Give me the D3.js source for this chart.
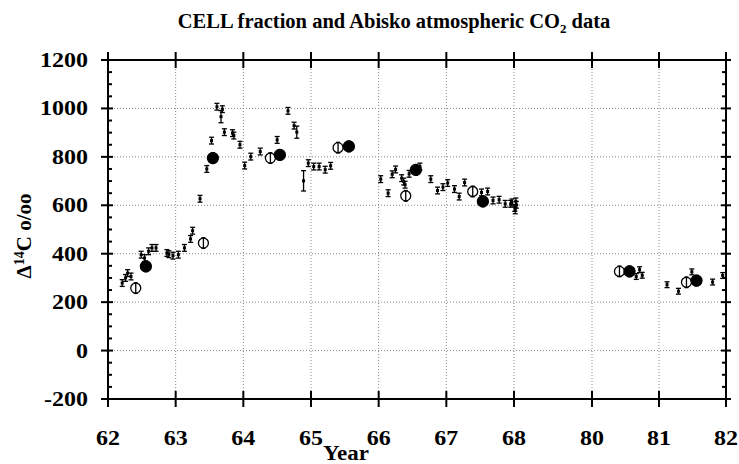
<!DOCTYPE html>
<head>
  <script src="https://d3js.org/d3.v7.min.js"></script>
</head>
<style>
  body { margin: 0; background: #fff; }
  text { font-family: "Liberation Serif", "DejaVu Serif", serif; font-weight: bold; fill: #000; }
</style>
<body>
  <svg id="chart"></svg>
</body>
<script>
  var w = 739;
  var h = 464;

  // x ticks (axis is broken between 68 and 80)
  var xTicks = [62, 63, 64, 65, 66, 67, 68, 80, 81, 82];
  var yTicks = [-200, 0, 200, 400, 600, 800, 1000, 1200];

  // small samples with error bars
  var smallYears = [62.21, 62.26, 62.29, 62.34, 62.49, 62.54, 62.60, 62.65, 62.71, 62.87, 62.90, 62.96,
    63.04, 63.13, 63.22, 63.25, 63.36, 63.46, 63.53, 63.61, 63.67, 63.69, 63.72, 63.84, 63.86, 63.95,
    64.02, 64.11, 64.25, 64.50, 64.66, 64.75, 64.79, 64.89, 64.96,
    65.04, 65.12, 65.21, 65.29,
    66.03, 66.14, 66.20, 66.25, 66.34, 66.37, 66.39, 66.45, 66.61, 66.77, 66.87, 66.95,
    67.02, 67.12, 67.19, 67.27, 67.52, 67.61, 67.69, 67.78, 67.87, 67.95, 67.97,
    68.12, 68.19, 68.28, 68.36,
    80.66, 80.71, 80.75, 81.12, 81.29, 81.49, 81.80, 81.95];
  var smallVals = [279, 300, 320, 306, 396, 382, 410, 424, 424, 403, 398, 392,
    396, 424, 461, 495, 627, 750, 867, 1007, 966, 997, 902, 898, 888, 850,
    764, 801, 822, 870, 990, 929, 902, 701, 774,
    760, 760, 747, 763,
    708, 650, 728, 748, 712, 698, 685, 730, 760, 708, 661, 675,
    692, 667, 636, 694, 653, 657, 620, 623, 606, 606, 612,
    589, 579, 616, 602,
    306, 334, 311, 272, 245, 325, 283, 310];
  var smallErr = [14, 14, 14, 14, 14, 14, 14, 14, 14, 14, 14, 14,
    14, 14, 14, 14, 14, 14, 14, 14, 25, 14, 14, 14, 14, 14,
    14, 14, 14, 14, 14, 14, 25, 42, 14,
    14, 14, 14, 14,
    14, 14, 14, 14, 14, 14, 14, 14, 14, 14, 14, 14,
    14, 14, 14, 14, 14, 14, 14, 14, 14, 14, 14,
    14, 14, 14, 14,
    12, 12, 12, 12, 12, 12, 12, 12];

  // open circles (CELL fraction)
  var openYears = [62.41, 63.41, 64.40, 65.40, 66.40, 67.39, 80.41, 81.41];
  var openVals = [258, 444, 795, 838, 639, 657, 327, 282];

  // filled circles
  var filledYears = [62.56, 63.55, 64.54, 65.56, 66.55, 67.54, 80.56, 81.56];
  var filledVals = [348, 795, 808, 843, 746, 616, 327, 289];

  var pLeft = 108, pRight = 726, pTop = 60, pBottom = 399;

  var x = d3.scaleLinear()
    .domain([62, 68, 80, 82])
    .range([pLeft, 514, 592, pRight]);
  var y = d3.scaleLinear()
    .domain([-200, 1200])
    .range([pBottom, pTop]);

  var svg = d3.select("svg#chart")
    .attr("width", w)
    .attr("height", h);

  // grid
  var grid = svg.append("g")
    .attr("stroke", "#888")
    .attr("stroke-width", 1)
    .attr("stroke-dasharray", "1,2");
  grid.selectAll("line.gx")
    .data(xTicks.slice(1, -1))
    .enter().append("line")
    .attr("x1", function(d){ return x(d); })
    .attr("x2", function(d){ return x(d); })
    .attr("y1", pTop).attr("y2", pBottom);
  grid.selectAll("line.gy")
    .data(yTicks.slice(1, -1))
    .enter().append("line")
    .attr("x1", pLeft).attr("x2", pRight)
    .attr("y1", function(d){ return y(d); })
    .attr("y2", function(d){ return y(d); });

  // frame
  svg.append("rect")
    .attr("x", pLeft).attr("y", pTop)
    .attr("width", pRight - pLeft).attr("height", pBottom - pTop)
    .attr("fill", "none")
    .attr("stroke", "#000")
    .attr("stroke-width", 2);

  var ticks = svg.append("g").attr("stroke", "#000").attr("stroke-width", 2);
  // major y ticks crossing both side lines
  yTicks.forEach(function(d){
    ticks.append("line").attr("x1", pLeft - 7).attr("x2", pLeft + 5).attr("y1", y(d)).attr("y2", y(d));
    ticks.append("line").attr("x1", pRight - 5).attr("x2", pRight + 5).attr("y1", y(d)).attr("y2", y(d));
  });
  // minor y ticks every 50
  d3.range(-200, 1201, 50).filter(function(d){ return d % 200 != 0; }).forEach(function(d){
    ticks.append("line").attr("x1", pLeft).attr("x2", pLeft + 4).attr("y1", y(d)).attr("y2", y(d));
    ticks.append("line").attr("x1", pRight - 4).attr("x2", pRight).attr("y1", y(d)).attr("y2", y(d));
  });
  // x ticks on top and bottom
  xTicks.forEach(function(d){
    ticks.append("line").attr("x1", x(d)).attr("x2", x(d)).attr("y1", pBottom - 8).attr("y2", pBottom + 8);
    ticks.append("line").attr("x1", x(d)).attr("x2", x(d)).attr("y1", pTop - 8).attr("y2", pTop + 8);
  });

  // tick labels (the original type is wide, so stretch a bit)
  svg.selectAll("text.yl")
    .data(yTicks)
    .enter().append("text")
    .attr("transform", function(d){ return "translate(88," + (y(d) + 7) + ") scale(1.2,1)"; })
    .attr("text-anchor", "end")
    .style("font-size", "20px")
    .text(function(d){ return d; });
  svg.selectAll("text.xl")
    .data(xTicks)
    .enter().append("text")
    .attr("transform", function(d){ return "translate(" + x(d) + ",445) scale(1.2,1)"; })
    .attr("text-anchor", "middle")
    .style("font-size", "20px")
    .text(function(d){ return d; });

  svg.append("text")
    .attr("transform", "translate(346,460) scale(1.15,1)")
    .attr("text-anchor", "middle")
    .style("font-size", "20px")
    .text("Year");

  var title = svg.append("text")
    .attr("x", 394).attr("y", 28)
    .attr("text-anchor", "middle")
    .style("font-size", "20.5px");
  title.append("tspan").text("CELL fraction and Abisko atmospheric CO");
  title.append("tspan").attr("dy", 5).style("font-size", "13px").text("2");
  title.append("tspan").attr("dy", -5).text(" data");

  var ylab = svg.append("text")
    .attr("transform", "translate(31,236) rotate(-90)")
    .attr("text-anchor", "middle")
    .style("font-size", "21px");
  ylab.append("tspan").text("Δ");
  ylab.append("tspan").attr("dy", -7).style("font-size", "14px").text("14");
  ylab.append("tspan").attr("dy", 7).text("C  o/oo");

  // error-bar helper
  function errBar(g, xs, ys, es, cap) {
    var sel = g.selectAll(null).data(xs).enter().append("g");
    sel.append("line")
      .attr("x1", function(d){ return x(d); })
      .attr("x2", function(d){ return x(d); })
      .attr("y1", function(d, i){ return y(ys[i] + es[i]); })
      .attr("y2", function(d, i){ return y(ys[i] - es[i]); });
    sel.append("line")
      .attr("x1", function(d){ return x(d) - cap; })
      .attr("x2", function(d){ return x(d) + cap; })
      .attr("y1", function(d, i){ return y(ys[i] + es[i]); })
      .attr("y2", function(d, i){ return y(ys[i] + es[i]); });
    sel.append("line")
      .attr("x1", function(d){ return x(d) - cap; })
      .attr("x2", function(d){ return x(d) + cap; })
      .attr("y1", function(d, i){ return y(ys[i] - es[i]); })
      .attr("y2", function(d, i){ return y(ys[i] - es[i]); });
    return sel;
  }

  var marks = svg.append("g").attr("stroke", "#000").attr("stroke-width", 1.3);

  var small = errBar(marks, smallYears, smallVals, smallErr, 2.5);
  small.append("rect")
    .attr("x", function(d){ return x(d) - 1.5; })
    .attr("y", function(d, i){ return y(smallVals[i]) - 1.5; })
    .attr("width", 3).attr("height", 3)
    .attr("fill", "#000").attr("stroke", "none");

  marks.selectAll("circle.open")
    .data(openYears)
    .enter().append("circle")
    .attr("cx", function(d){ return x(d); })
    .attr("cy", function(d, i){ return y(openVals[i]); })
    .attr("r", 5)
    .attr("fill", "#fff");
  errBar(marks, openYears, openVals, openYears.map(function(){ return 22; }), 2);

  errBar(marks, filledYears, filledVals, filledYears.map(function(){ return 22; }), 2);
  marks.selectAll("circle.filled")
    .data(filledYears)
    .enter().append("circle")
    .attr("cx", function(d){ return x(d); })
    .attr("cy", function(d, i){ return y(filledVals[i]); })
    .attr("r", 5.5)
    .attr("fill", "#000");
</script>
